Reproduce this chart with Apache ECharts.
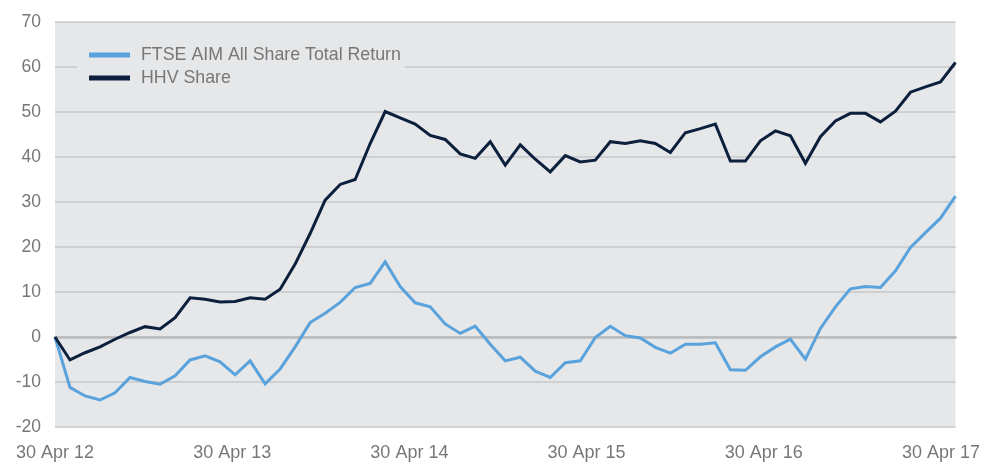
<!DOCTYPE html>
<html>
<head>
<meta charset="utf-8">
<script src="https://cdn.jsdelivr.net/npm/echarts@6/dist/echarts.min.js"></script>
<style>
  html, body { margin: 0; padding: 0; background: #ffffff; }
  #chart { width: 983px; height: 462px; }
</style>
</head>
<body>
<div id="chart"></div>
<script>
const months = [
  '30 Apr 12','31 May 12','30 Jun 12','31 Jul 12','31 Aug 12','30 Sep 12','31 Oct 12','30 Nov 12','31 Dec 12','31 Jan 13','28 Feb 13','31 Mar 13',
  '30 Apr 13','31 May 13','30 Jun 13','31 Jul 13','31 Aug 13','30 Sep 13','31 Oct 13','30 Nov 13','31 Dec 13','31 Jan 14','28 Feb 14','31 Mar 14',
  '30 Apr 14','31 May 14','30 Jun 14','31 Jul 14','31 Aug 14','30 Sep 14','31 Oct 14','30 Nov 14','31 Dec 14','31 Jan 15','28 Feb 15','31 Mar 15',
  '30 Apr 15','31 May 15','30 Jun 15','31 Jul 15','31 Aug 15','30 Sep 15','31 Oct 15','30 Nov 15','31 Dec 15','31 Jan 16','29 Feb 16','31 Mar 16',
  '30 Apr 16','31 May 16','30 Jun 16','31 Jul 16','31 Aug 16','30 Sep 16','31 Oct 16','30 Nov 16','31 Dec 16','31 Jan 17','28 Feb 17','31 Mar 17',
  '30 Apr 17'
];
const xTickLabels = ['30 Apr 12','30 Apr 13','30 Apr 14','30 Apr 15','30 Apr 16','30 Apr 17'];
const yTicks = { min: -20, max: 70, interval: 10 };

const ftseAim = [
  0, -11.2, -13.1, -14.0, -12.4, -9.0, -9.9, -10.5, -8.6, -5.1, -4.2, -5.5, -8.4, -5.3, -10.4,
  -7.1, -2.2, 3.2, 5.3, 7.7, 11.0, 11.9, 16.7, 11.2, 7.6, 6.7, 2.9, 0.8, 2.4, -1.6,
  -5.3, -4.5, -7.6, -9.0, -5.7, -5.3, -0.1, 2.4, 0.3, -0.2, -2.3, -3.6, -1.6, -1.6, -1.3,
  -7.3, -7.4, -4.4, -2.2, -0.5, -4.9, 1.9, 6.7, 10.7, 11.2, 11.0, 14.7, 19.9, 23.2, 26.4, 31.3
];
const hhvShare = [
  0, -5.1, -3.5, -2.2, -0.5, 1.0, 2.3, 1.8, 4.3, 8.7, 8.4, 7.8, 7.9, 8.7, 8.4,
  10.6, 16.2, 23.0, 30.4, 33.9, 35.0, 43.0, 50.1, 48.7, 47.3, 44.8, 43.9, 40.7, 39.7, 43.4,
  38.2, 42.7, 39.5, 36.7, 40.3, 38.9, 39.3, 43.4, 43.0, 43.6, 43.0, 41.0, 45.4, 46.3, 47.3,
  39.1, 39.1, 43.6, 45.8, 44.7, 38.6, 44.5, 48.0, 49.7, 49.7, 47.8, 50.2, 54.4, 55.6, 56.7, 61.0
];
const seriesNames = ['FTSE AIM All Share Total Return', 'HHV Share'];

const textColor = '#777777';
const fontFamily = '"Liberation Sans", Arial, Helvetica, sans-serif';

const chart = echarts.init(document.getElementById('chart'), null, { renderer: 'canvas' });
chart.setOption({
  animation: false,
  backgroundColor: '#ffffff',
  grid: {
    left: 55, right: 25, top: 22, bottom: 35,
    show: true, backgroundColor: '#e6e7e9', borderWidth: 0
  },
  legend: {
    orient: 'vertical',
    left: 77, top: 41,
    backgroundColor: '#e6e7e9',
    padding: [5, 4, 5, 12],
    itemGap: 5,
    itemWidth: 41, itemHeight: 5,
    icon: 'rect',
    textStyle: { color: textColor, fontSize: 17.8, fontFamily: fontFamily, lineHeight: 18, padding: [0, 0, 0, 6] },
    data: seriesNames
  },
  xAxis: [
    {
      type: 'category',
      data: months,
      boundaryGap: false,
      position: 'bottom',
      axisLine: { show: true, onZero: true, lineStyle: { color: '#b9babc', width: 2.5 } },
      axisTick: { show: false },
      axisLabel: { show: false },
      splitLine: { show: false }
    },
    {
      type: 'value',
      min: 0,
      max: 5.082,
      interval: 1,
      position: 'bottom',
      axisLine: { show: false, onZero: false },
      axisTick: { show: false },
      splitLine: { show: false },
      axisLabel: {
        show: true,
        margin: 17,
        color: textColor,
        fontSize: 18,
        fontFamily: fontFamily,
        showMaxLabel: false,
        formatter: function (v) {
          return Number.isInteger(v) && xTickLabels[v] ? xTickLabels[v] : '';
        }
      }
    }
  ],
  yAxis: {
    type: 'value',
    min: yTicks.min, max: yTicks.max, interval: yTicks.interval,
    axisLine: { show: false },
    axisTick: { show: false },
    axisLabel: { color: textColor, fontSize: 17.5, fontFamily: fontFamily, margin: 14 },
    splitLine: { show: true, lineStyle: { color: '#c6c7c9', width: 1.5 } }
  },
  series: [
    {
      name: seriesNames[0],
      type: 'line',
      xAxisIndex: 0,
      data: ftseAim,
      symbol: 'none',
      lineStyle: { color: '#5aa2dc', width: 3, join: 'miter' },
      itemStyle: { color: '#5aa2dc' },
      z: 3
    },
    {
      name: seriesNames[1],
      type: 'line',
      xAxisIndex: 0,
      data: hhvShare,
      symbol: 'none',
      lineStyle: { color: '#0c1f3c', width: 3, join: 'miter' },
      itemStyle: { color: '#0c1f3c' },
      z: 4
    }
  ]
});
</script>
</body>
</html>
